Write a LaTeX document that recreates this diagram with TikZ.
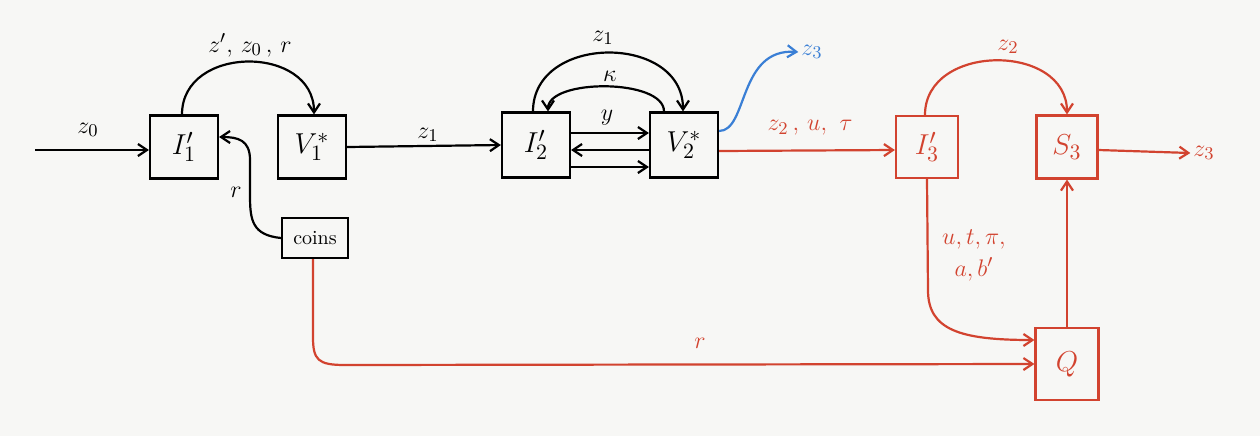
\documentclass[tikz,border=0pt]{standalone}
\usetikzlibrary{arrows.meta}
\definecolor{bg}{HTML}{F7F7F5}
\definecolor{rd}{HTML}{D2432F}
\definecolor{bl}{HTML}{3A7FD5}
\begin{document}
\begin{tikzpicture}[x=0.5pt,y=-0.5pt,
  line width=1.1pt,
  arr/.style={-{Straight Barb[length=4.5pt,width=6pt]}},
  box/.style={draw,minimum width=34pt,minimum height=31.5pt,inner sep=0pt,font=\fontsize{15}{17}\selectfont},
  lbl/.style={font=\fontsize{13}{15}\selectfont,inner sep=1pt},
  red/.style={draw=rd,text=rd},
]
\fill[bg] (0,0) rectangle (1260,436);
\useasboundingbox (0,0) rectangle (1260,436);
% nodes
\node[box] (i1) at (184,147) {$I'_1$};
\node[box] (v1) at (312,147) {$V^*_1$};
\node[box,minimum width=33pt,minimum height=20pt,font=\fontsize{10}{12}\selectfont] (coins) at (315,238) {coins};
\node[box,minimum height=32.5pt] (i2) at (536,145) {$I'_2$};
\node[box,minimum height=32.5pt] (v2) at (684,145) {$V^*_2$};
\node[box,red,minimum width=31pt,minimum height=31pt] (i3) at (927,147) {$I'_3$};
\node[box,red,minimum width=30.5pt] (s3) at (1067,147) {$S_3$};
\node[box,red,minimum width=31.5pt,minimum height=36pt] (q) at (1067,364) {$Q$};
\coordinate (in) at (35,150);
% black connectors
\draw[arr] (in) -- (i1.west |- in);
\node[lbl] (lz0) at (88,130) {$z_0$};
\draw[arr] ([xshift=-1pt]i1.north) .. controls +(0,-70) and +(0,-70) .. ([xshift=1pt]v1.north);
\node[lbl] (la) at (250,45) {$z',\, z_0\,,\, r$};
\draw[arr] (coins.west) .. controls (252,235) and (250,220) .. (250,195) -- (250,160) .. controls (250,140) and (238,137) .. ([yshift=5pt]i1.east);
\node[lbl] (lr1) at (236,192) {$r$};
\draw[arr] (v1.east) -- (i2.west);
\node[lbl] (lz1) at (428,135) {$z_1$};
\draw[arr] ([xshift=-1.5pt]i2.north) .. controls +(0,-78) and +(0,-78) .. ([xshift=-0.5pt]v2.north);
\node[lbl] (lz1b) at (603,38) {$z_1$};
\draw[arr] ([xshift=-10pt]v2.north) .. controls +(0,-33) and +(0,-33) .. ([xshift=6pt]i2.north);
\node[lbl] (lk) at (610,76) {$\kappa$};
\draw[arr] ([yshift=6pt]i2.east) -- ([yshift=6pt]v2.west);
\node[lbl] (ly) at (607,118) {$y$};
\draw[arr] ([yshift=-2.5pt]v2.west) -- ([yshift=-2.5pt]i2.east);
\draw[arr] ([yshift=-11pt]i2.east) -- ([yshift=-11pt]v2.west);
% blue
\node[lbl,text=bl] (z3b) at (812,52) {$z_3$};
\draw[arr,bl] ([yshift=7pt]v2.east) .. controls (748,131) and (738,48) .. (z3b.west);
% red connectors
\draw[arr,rd] ([yshift=-3pt]v2.east) -- ([yshift=-1.5pt]i3.west);
\node[lbl,text=rd] (lzu) at (810,128) {$z_2\,,\,u,\ \tau$};
\draw[arr,rd] ([xshift=-1pt]i3.north) .. controls +(0,-72) and +(0,-72) .. (s3.north);
\node[lbl,text=rd] (lz2) at (1008,47) {$z_2$};
\node[lbl,text=rd] (z3o) at (1204,153) {$z_3$};
\draw[arr,rd] ([yshift=-1.5pt]s3.east) -- (z3o.west);
\draw[arr,rd] (i3.south) -- (928,290) .. controls (928,330) and (960,340) .. ([yshift=12pt]q.west);
\node[lbl,text=rd,align=center] (luv) at (974,255) {$u,t,\pi,$\\[1pt]$a,b'$};
\draw[arr,rd] (q.north) -- (s3.south);
\draw[arr,rd] ([xshift=-1pt]coins.south) -- (313,337) .. controls (313,360) and (318,365) .. (345,365) -- (q.west);
\node[lbl,text=rd] (lr2) at (700,343) {$r$};
\end{tikzpicture}
\end{document}
